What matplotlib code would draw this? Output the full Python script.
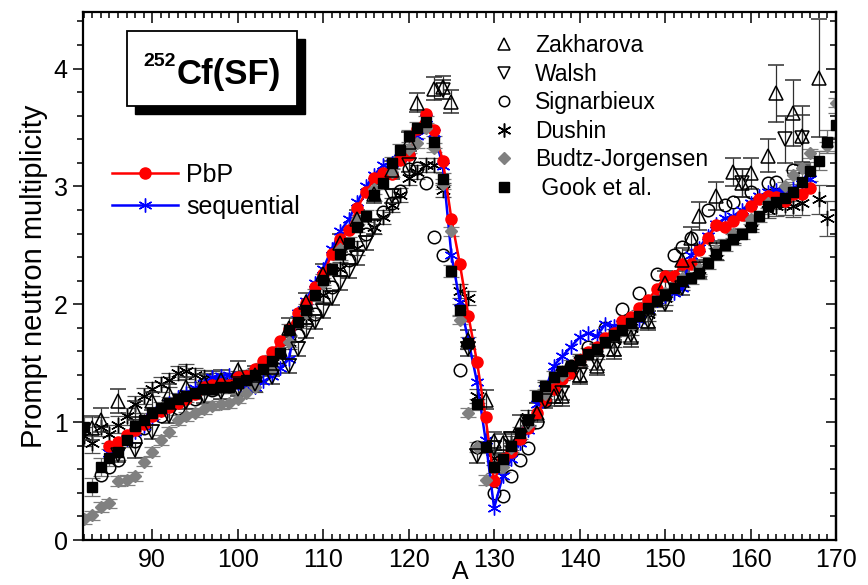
import numpy as np
import matplotlib
matplotlib.use('Agg')
from matplotlib import pyplot as plt
from matplotlib.lines import Line2D
from matplotlib.patches import Rectangle
from matplotlib.ticker import MultipleLocator

plt.rcParams['font.family'] = ['Liberation Sans', 'DejaVu Sans']

# model calculations (one point per mass number)
A_calc = list(range(85, 168))
nu_pbp = [0.80, 0.83, 0.89, 0.93, 0.985, 1.05, 1.095, 1.13, 1.165, 1.20,
          1.24, 1.30, 1.315, 1.32, 1.315, 1.385, 1.39, 1.455, 1.515, 1.595,
          1.69, 1.79, 1.93, 2.01, 2.15, 2.255, 2.425, 2.555, 2.63, 2.82,
          2.95, 3.07, 3.115, 3.105, 3.225, 3.265, 3.49, 3.615, 3.475, 3.22,
          2.725, 2.34, 1.90, 1.51, 1.04, 0.50, 0.685, 0.75, 0.86, 0.95,
          1.076, 1.19, 1.285, 1.37, 1.42, 1.525, 1.595, 1.635, 1.715, 1.755,
          1.86, 1.89, 1.965, 2.035, 2.13, 2.24, 2.24, 2.34, 2.34, 2.46,
          2.56, 2.67, 2.655, 2.71, 2.76, 2.83, 2.89, 2.92, 2.91, 2.88,
          2.94, 2.935, 2.99]
nu_seq = [0.74, 0.80, 0.86, 0.92, 0.97, 1.04, 1.10, 1.16, 1.21, 1.25,
          1.29, 1.33, 1.38, 1.39, 1.40, 1.33, 1.28, 1.30, 1.345, 1.39,
          1.46, 1.535, 1.93, 2.03, 2.18, 2.30, 2.47, 2.62, 2.72, 2.87,
          3.00, 3.10, 3.18, 3.20, 3.24, 3.30, 3.43, 3.58, 3.45, 3.17,
          2.42, 2.02, 1.69, 1.34, 0.85, 0.27, 0.54, 0.69, 0.82, 0.93,
          1.15, 1.28, 1.48, 1.56, 1.64, 1.72, 1.755, 1.73, 1.83, 1.82,
          1.83, 1.85, 1.87, 1.96, 2.04, 2.07, 2.10, 2.14, 2.42, 2.48,
          2.58, 2.68, 2.73, 2.75, 2.80, 2.86, 2.92, 2.95, 2.97, 2.95,
          2.99, 3.02, 3.06]

# experimental data
A_zak = [83, 84, 86, 88, 90, 92, 94, 96, 98, 100, 102, 104, 106, 108, 110,
         112, 114, 116, 118, 120, 121, 123, 124, 125, 127, 129, 130, 131, 133, 135,
         137, 138, 140, 142, 144, 146, 148, 150, 152, 153, 154, 156, 158, 159, 160,
         162, 163, 165, 166, 168]
nu_zak = [0.95, 1.02, 1.18, 1.10, 1.18, 1.24, 1.30, 1.33, 1.36, 1.44, 1.40, 1.47, 1.80, 2.02, 2.26,
          2.52, 2.72, 2.94, 3.14, 3.38, 3.71, 3.83, 3.84, 3.72, 1.70, 1.19, 0.84, 0.82, 0.98, 1.08,
          1.22, 1.22, 1.40, 1.48, 1.62, 1.72, 1.86, 2.18, 2.38, 2.56, 2.75, 2.92, 3.12, 3.03, 3.11,
          3.26, 3.79, 3.62, 3.43, 3.92]
err_zak = [0.10, 0.10, 0.10, 0.08, 0.08, 0.08, 0.08, 0.08, 0.08, 0.08, 0.08, 0.08, 0.08, 0.08, 0.08,
           0.08, 0.08, 0.08, 0.08, 0.08, 0.08, 0.10, 0.10, 0.10, 0.08, 0.08, 0.08, 0.08, 0.08, 0.08,
           0.08, 0.08, 0.08, 0.08, 0.08, 0.08, 0.08, 0.10, 0.10, 0.10, 0.12, 0.12, 0.12, 0.12, 0.13,
           0.14, 0.24, 0.28, 0.25, 0.50]

A_wal = [86, 88, 90, 92, 94, 96, 98, 100, 102, 104, 106, 107, 108, 109, 110,
         111, 112, 113, 114, 115, 116, 118, 120, 124, 127, 128, 130, 132, 134, 136,
         138, 140, 142, 144, 146, 148, 150, 152, 154, 156, 159, 164, 166]
nu_wal = [0.72, 0.76, 0.92, 1.05, 1.17, 1.22, 1.26, 1.28, 1.32, 1.38, 1.48, 1.62, 1.77, 1.85, 1.94,
          2.05, 2.18, 2.28, 2.39, 2.52, 2.66, 2.92, 3.18, 3.82, 1.62, 0.71, 0.78, 0.86, 1.00, 1.18,
          1.25, 1.40, 1.50, 1.62, 1.74, 1.86, 2.00, 2.14, 2.30, 2.46, 3.03, 3.40, 3.41]
err_wal = [0.06, 0.06, 0.06, 0.06, 0.06, 0.06, 0.06, 0.06, 0.06, 0.06, 0.06, 0.06, 0.06, 0.06, 0.06,
           0.06, 0.06, 0.06, 0.06, 0.06, 0.06, 0.06, 0.06, 0.08, 0.06, 0.06, 0.06, 0.06, 0.06, 0.06,
           0.06, 0.06, 0.06, 0.06, 0.06, 0.06, 0.06, 0.06, 0.08, 0.08, 0.12, 0.20, 0.20]

A_sig = [84, 85, 86, 88, 89, 91, 93, 95, 97, 99, 101, 103, 105, 107, 109,
         111, 113, 115, 117, 118, 119, 120, 121, 122, 123, 124, 126, 128, 130, 131,
         132, 133, 134, 135, 136, 137, 139, 141, 143, 145, 147, 149, 151, 152, 153,
         155, 157, 158, 160, 162, 163, 165]
nu_sig = [0.55, 0.62, 0.68, 0.84, 0.95, 1.05, 1.12, 1.20, 1.27, 1.31, 1.30, 1.40, 1.55, 1.74, 1.92,
          2.15, 2.38, 2.60, 2.78, 2.86, 2.96, 3.15, 3.16, 3.03, 2.57, 2.42, 1.44, 0.79, 0.40, 0.37,
          0.54, 0.68, 0.78, 1.00, 1.18, 1.32, 1.48, 1.64, 1.80, 1.96, 2.10, 2.26, 2.42, 2.49, 2.56,
          2.80, 2.84, 2.87, 2.95, 3.03, 3.04, 3.14]

A_dus = [82, 83, 84, 85, 86, 87, 88, 89, 90, 91, 92, 93, 94, 95, 96, 97, 98, 99, 100, 101, 102,
         104, 106, 108, 110, 112, 114, 116, 117, 118, 119, 120, 121, 122, 123, 124,
         126, 127, 128, 130, 132, 134, 136, 138, 140, 142, 144, 146, 148, 150, 152, 154, 156, 158,
         160, 162, 163, 164, 165, 166, 168, 169]
nu_dus = [0.88, 0.82, 0.96, 0.90, 0.98, 1.05, 1.15, 1.22, 1.28, 1.32, 1.36, 1.42, 1.43, 1.40, 1.38,
          1.37, 1.36, 1.36, 1.37, 1.38, 1.40,
          1.50, 1.68, 1.88, 2.08, 2.30, 2.48, 2.66, 2.74, 2.84, 2.93, 3.07, 3.12, 3.18, 3.18, 2.97,
          2.11, 2.05, 1.22, 0.70, 0.82, 1.04, 1.28, 1.42, 1.52, 1.60, 1.70, 1.80, 1.92, 2.05, 2.18,
          2.30, 2.44, 2.58, 2.70, 2.80, 2.83, 2.84, 2.83, 2.86, 2.89, 2.73]
err_dus = [0.08, 0.08, 0.08, 0.08, 0.07, 0.07, 0.07, 0.07, 0.06, 0.06, 0.06, 0.06, 0.06, 0.06, 0.06,
           0.06, 0.06, 0.06, 0.06, 0.06, 0.06,
           0.06, 0.06, 0.06, 0.06, 0.06, 0.06, 0.06, 0.06, 0.06, 0.06, 0.06, 0.06, 0.06, 0.06, 0.06,
           0.06, 0.06, 0.06, 0.06, 0.06, 0.06, 0.06, 0.06, 0.06, 0.06, 0.06, 0.06, 0.06, 0.06, 0.06,
           0.06, 0.06, 0.06, 0.06, 0.07, 0.08, 0.08, 0.09, 0.10, 0.12, 0.15]

A_bud = [82, 83, 84, 85, 86, 87, 88, 89, 90, 91, 92, 93, 94, 95, 96, 97, 98, 99, 100, 101, 102,
         104, 106, 108, 110, 112, 114, 116, 118, 120,
         121, 122, 123, 124, 125, 126, 127, 128, 129, 131, 132,
         134, 136, 138, 140, 142, 144, 146, 148, 150, 152, 154, 156, 158, 160, 162, 164,
         165, 166, 167, 169, 170]
nu_bud = [0.18, 0.21, 0.28, 0.31, 0.50, 0.51, 0.54, 0.665, 0.75, 0.85, 0.92, 1.02, 1.05, 1.08, 1.11,
          1.14, 1.155, 1.16, 1.20, 1.245, 1.30,
          1.45, 1.68, 1.93, 2.18, 2.47, 2.72, 2.98, 3.12, 3.32,
          3.37, 3.50, 3.33, 3.02, 2.62, 1.87, 1.08, 0.79, 0.51, 0.62, 0.78,
          0.98, 1.24, 1.40, 1.52, 1.60, 1.72, 1.82, 1.95, 2.10, 2.22, 2.30, 2.46, 2.60, 2.72, 2.86, 3.00,
          3.10, 3.16, 3.28, 3.34, 3.71]

A_gook = list(range(82, 171))
nu_gook = [0.96, 0.45, 0.62, 0.70, 0.75, 0.85, 0.97, 1.02, 1.08, 1.12,
           1.16, 1.20, 1.22, 1.25, 1.28, 1.28, 1.30, 1.30, 1.33, 1.36,
           1.40, 1.45, 1.52, 1.585, 1.78, 1.85, 1.95, 2.08, 2.21, 2.30,
           2.43, 2.52, 2.66, 2.75, 2.93, 3.03, 3.20, 3.31, 3.43, 3.50,
           3.55, 3.38, 3.06, 2.28, 1.95, 1.67, 1.15, 0.79, 0.62, 0.69,
           0.80, 0.91, 1.02, 1.22, 1.31, 1.38, 1.43, 1.48, 1.53, 1.58,
           1.62, 1.68, 1.74, 1.78, 1.84, 1.90, 1.97, 2.03, 2.08, 2.14,
           2.20, 2.22, 2.265, 2.35, 2.43, 2.505, 2.55, 2.60, 2.66, 2.745,
           2.83, 2.87, 2.90, 2.95, 3.04, 3.13, 3.22, 3.38, 3.52]
err_gook = [0.08, 0.08, 0.08, 0.07, 0.07, 0.06, 0.06, 0.06, 0.05, 0.05,
            0.05, 0.05, 0.05, 0.05, 0.05, 0.05, 0.05, 0.05, 0.05, 0.05,
            0.05, 0.05, 0.05, 0.05, 0.05, 0.05, 0.05, 0.05, 0.05, 0.05,
            0.05, 0.05, 0.05, 0.05, 0.05, 0.05, 0.05, 0.05, 0.05, 0.05,
            0.05, 0.05, 0.05, 0.05, 0.05, 0.05, 0.05, 0.05, 0.05, 0.05,
            0.05, 0.05, 0.05, 0.05, 0.05, 0.05, 0.05, 0.05, 0.05, 0.05,
            0.05, 0.05, 0.05, 0.05, 0.05, 0.05, 0.05, 0.05, 0.05, 0.05,
            0.05, 0.05, 0.05, 0.05, 0.05, 0.05, 0.05, 0.05, 0.05, 0.05,
            0.06, 0.06, 0.06, 0.07, 0.07, 0.08, 0.08, 0.10, 0.10]

fig = plt.figure(figsize=(8.68, 5.85), dpi=100)
ax = fig.add_axes([83 / 868, 45 / 585, 753 / 868, 528 / 585])

eb = dict(ls='none', elinewidth=0.9, capsize=6, capthick=0.9)
ax.errorbar(A_bud, nu_bud, yerr=0.04, fmt='D', ms=6.5, color='#808080', ecolor='#808080', **eb)
ax.errorbar(A_gook, nu_gook, yerr=err_gook, fmt='s', ms=7, color='black', ecolor='#707070', **eb)
ax.errorbar(A_dus, nu_dus, yerr=err_dus, fmt='none', ecolor='#505050', **eb)
ax.plot(A_dus, nu_dus, ls='none', marker=(6, 2, 0), ms=11, mec='black', mew=1.0)
ax.errorbar(A_zak, nu_zak, yerr=err_zak, fmt='^', ms=10, mfc='none', mec='black', mew=1.1,
            ecolor='#303030', **eb)
ax.errorbar(A_wal, nu_wal, yerr=err_wal, fmt='v', ms=10, mfc='none', mec='black', mew=1.1,
            ecolor='#303030', **eb)
ax.plot(A_sig, nu_sig, ls='none', marker='o', ms=9, mfc='none', mec='black', mew=1.1)

seq, = ax.plot(A_calc, nu_seq, color='blue', lw=1.8, marker=(6, 2, 0), ms=10, mec='blue', mew=1.0)
pbp, = ax.plot(A_calc, nu_pbp, color='red', lw=1.8, marker='o', ms=8, mfc='red', mec='red')

ax.set_xlim(81.9, 170)
ax.set_ylim(0, 4.48)
ax.xaxis.set_major_locator(MultipleLocator(10))
ax.xaxis.set_minor_locator(MultipleLocator(1))
ax.yaxis.set_major_locator(MultipleLocator(1))
ax.yaxis.set_minor_locator(MultipleLocator(0.2))
ax.tick_params(axis='x', which='both', direction='in', top=True, width=1.1, pad=6)
ax.tick_params(axis='x', which='major', length=8)
ax.tick_params(axis='x', which='minor', length=4)
ax.tick_params(axis='y', which='both', direction='out', right=False, width=1.1, pad=4)
ax.tick_params(axis='y', which='major', length=7)
ax.tick_params(axis='y', which='minor', length=4)
for sp in ax.spines.values():
    sp.set_linewidth(1.6)

sec = ax.secondary_yaxis('right')
sec.yaxis.set_major_locator(MultipleLocator(1))
sec.yaxis.set_minor_locator(MultipleLocator(0.2))
sec.tick_params(which='both', direction='in', labelright=False, width=1.1)
sec.tick_params(which='major', length=7)
sec.tick_params(which='minor', length=4)
sec.spines['right'].set_linewidth(1.6)

for lbl in ax.get_xticklabels() + ax.get_yticklabels():
    lbl.set_family(['Liberation Sans Narrow', 'Liberation Sans'])
    lbl.set_fontsize(18)

ax.set_ylabel('Prompt neutron multiplicity', fontsize=21, labelpad=4)
fig.text(460 / 868, 1 / 585, 'A', fontsize=18, ha='center', va='bottom')

# title box with shadow
ax.add_patch(Rectangle((0.0690, 0.807), 0.226, 0.142, transform=ax.transAxes,
                       facecolor='black', edgecolor='black', zorder=5))
ax.add_patch(Rectangle((0.0584, 0.822), 0.226, 0.142, transform=ax.transAxes,
                       facecolor='white', edgecolor='black', lw=1.3, zorder=6))
ax.text(0.080, 0.898, '252', transform=ax.transAxes, fontsize=14, fontweight='bold',
        ha='left', va='baseline', zorder=7)
ax.text(0.125, 0.864, 'Cf(SF)', transform=ax.transAxes, fontsize=25, fontweight='bold',
        ha='left', va='baseline', zorder=7)

leg1 = ax.legend(handles=[pbp, seq], labels=['PbP', 'sequential'], loc='upper left',
                 bbox_to_anchor=(0.0385, 0.714), frameon=False, fontsize=18,
                 handlelength=2.64, handletextpad=0.32, labelspacing=0.3,
                 borderpad=0, borderaxespad=0)
ax.add_artist(leg1)

proxies = [
    Line2D([], [], ls='none', marker='^', ms=8, mfc='none', mec='black', mew=1.1),
    Line2D([], [], ls='none', marker='v', ms=8, mfc='none', mec='black', mew=1.1),
    Line2D([], [], ls='none', marker='o', ms=7.5, mfc='none', mec='black', mew=1.1),
    Line2D([], [], ls='none', marker=(6, 2, 0), ms=10, mec='black', mew=1.1),
    Line2D([], [], ls='none', marker='D', ms=6.5, color='#808080'),
    Line2D([], [], ls='none', marker='s', ms=7.5, color='black'),
]
names = ['Zakharova', 'Walsh', 'Signarbieux', 'Dushin', 'Budtz-Jorgensen', ' Gook et al.']
ax.legend(handles=proxies, labels=names, loc='upper left', bbox_to_anchor=(0.544, 0.958),
          frameon=False, fontsize=16.5, handlelength=1.0, handletextpad=0.85,
          labelspacing=0.24, borderpad=0, borderaxespad=0)

fig.savefig('out.png', dpi=100)
